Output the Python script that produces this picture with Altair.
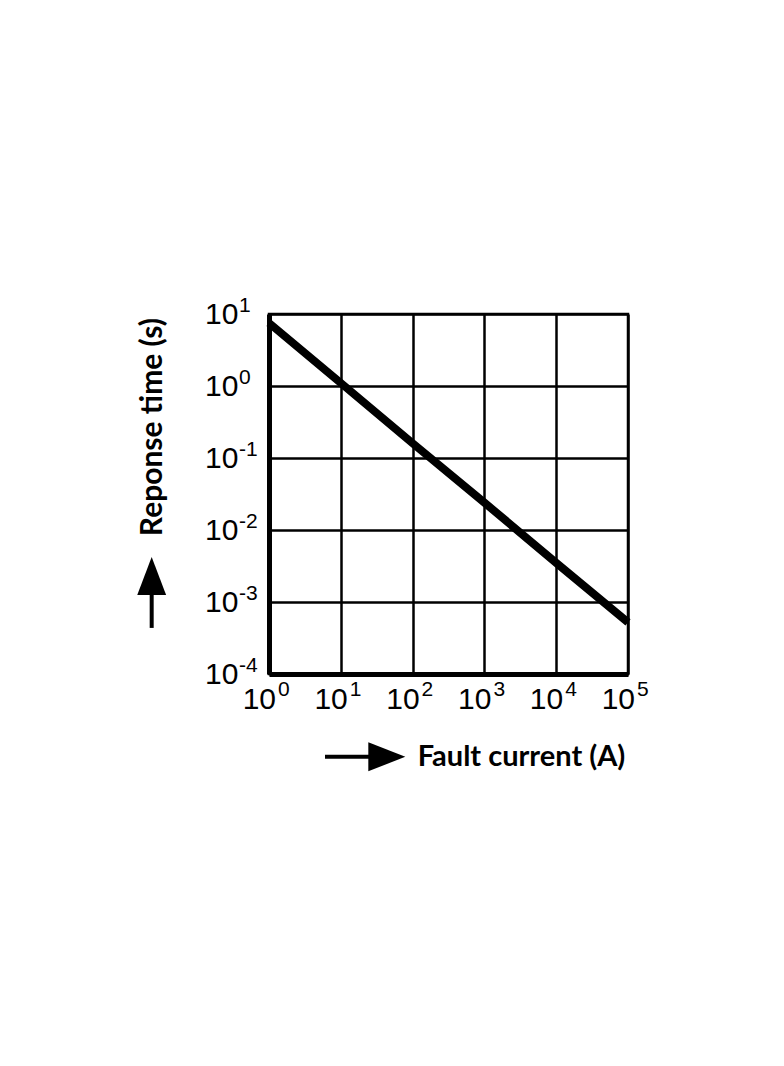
import altair as alt
import pandas as pd

# Data (log-log characteristic)
current = [1, 10, 100, 1000, 10000, 100000]
response = [7.5, 1.1, 0.16, 0.024, 0.0035, 0.00052]

x_exps = [0, 1, 2, 3, 4, 5]
y_exps = [-4, -3, -2, -1, 0, 1]

x_title = "Fault current (A)"
y_title = "Reponse time (s)"

LABEL_FONT = "Liberation Sans"
TITLE_FONT = "Lato"

xs = alt.Scale(type="log", domain=[1, 1e5], nice=False)
ys = alt.Scale(type="log", domain=[1e-4, 10], nice=False)

grid_vals = [10.0 ** k for k in x_exps]
grid_vals_y = [10.0 ** k for k in y_exps]

xaxis = alt.Axis(values=grid_vals, grid=True, gridColor="black", gridWidth=2.5,
                 gridOpacity=1, domainColor="black", domainWidth=5,
                 ticks=False, labels=False, title=None)
yaxis = alt.Axis(values=grid_vals_y, grid=True, gridColor="black", gridWidth=2.5,
                 gridOpacity=1, domainColor="black", domainWidth=5,
                 ticks=False, labels=False, title=None)

line_df = pd.DataFrame({"current": current, "response": response})
xlab = pd.DataFrame({"v": [10.0 ** k for k in x_exps], "y": [1e-4] * len(x_exps),
                     "base": ["10"] * len(x_exps), "exp": [str(k) for k in x_exps]})
ylab = pd.DataFrame({"v": [10.0 ** k for k in y_exps], "x": [1.0] * len(y_exps),
                     "base": ["10"] * len(y_exps), "exp": [str(k) for k in y_exps]})


def X(field):
    return alt.X(field, scale=xs, axis=xaxis)


def Y(field):
    return alt.Y(field, scale=ys, axis=yaxis)


base = alt.Chart(line_df).mark_line(color="black", strokeWidth=8, strokeCap="butt").encode(
    x=X("current:Q"), y=Y("response:Q"))

# x tick labels: "10" + superscript exponent
xl_base = alt.Chart(xlab).mark_text(font=LABEL_FONT, fontSize=30, align="right",
                                     baseline="alphabetic", dx=7, dy=35, color="black").encode(
    x=X("v:Q"), y=Y("y:Q"), text="base:N")
xl_exp = alt.Chart(xlab).mark_text(font=LABEL_FONT, fontSize=21, align="left",
                                    baseline="alphabetic", dx=9, dy=22, color="black").encode(
    x=X("v:Q"), y=Y("y:Q"), text="exp:N")

# y tick labels
yl_base = alt.Chart(ylab).mark_text(font=LABEL_FONT, fontSize=30, align="left",
                                     baseline="alphabetic", dx=-64, dy=10, color="black").encode(
    x=X("x:Q"), y=Y("v:Q"), text="base:N")
yl_exp = alt.Chart(ylab).mark_text(font=LABEL_FONT, fontSize=21, align="left",
                                    baseline="alphabetic", dx=-30, dy=-2, color="black").encode(
    x=X("x:Q"), y=Y("v:Q"), text="exp:N")

# Axis titles with arrows (placed in data coordinates outside the plot area)
xt_df = pd.DataFrame({"x": [10 ** 2.07], "y": [10 ** -5.15], "t": [x_title]})
yt_df = pd.DataFrame({"x": [10 ** -1.61], "y": [10 ** -0.57], "t": [y_title]})

x_title_mark = alt.Chart(xt_df).mark_text(font=TITLE_FONT, fontWeight="bold", fontSize=29,
                                          align="left", baseline="middle", color="black").encode(
    x=X("x:Q"), y=Y("y:Q"), text="t:N")
y_title_mark = alt.Chart(yt_df).mark_text(font=TITLE_FONT, fontWeight="bold", fontSize=30,
                                          align="center", baseline="middle", angle=270,
                                          color="black").encode(
    x=X("x:Q"), y=Y("y:Q"), text="t:N")

xshaft = pd.DataFrame({"x": [10 ** 0.78], "x2": [10 ** 1.5], "y": [10 ** -5.15]})
yshaft = pd.DataFrame({"x": [10 ** -1.634], "y": [10 ** -2.75], "y2": [10 ** -3.36]})
xhead = pd.DataFrame({"x": [10 ** 1.641], "y": [10 ** -5.15]})
yhead = pd.DataFrame({"x": [10 ** -1.634], "y": [10 ** -2.639]})

x_shaft_mark = alt.Chart(xshaft).mark_rule(color="black", strokeWidth=4).encode(
    x=X("x:Q"), x2="x2:Q", y=Y("y:Q"))
y_shaft_mark = alt.Chart(yshaft).mark_rule(color="black", strokeWidth=4).encode(
    x=X("x:Q"), y=Y("y:Q"), y2="y2:Q")
x_head_mark = alt.Chart(xhead).mark_point(shape="M-1,-0.78L1,0L-1,0.78Z", size=1369,
                                          filled=True, color="black", opacity=1).encode(
    x=X("x:Q"), y=Y("y:Q"))
y_head_mark = alt.Chart(yhead).mark_point(shape="M0,-1L0.76,1L-0.76,1Z", size=1444,
                                          filled=True, color="black", opacity=1).encode(
    x=X("x:Q"), y=Y("y:Q"))

chart = alt.layer(
    base, xl_base, xl_exp, yl_base, yl_exp,
    x_title_mark, y_title_mark, x_shaft_mark, y_shaft_mark, x_head_mark, y_head_mark
).properties(
    width=359, height=360,
    autosize=alt.AutoSizeParams(type="none"),
    padding={"left": 261, "top": 306, "right": 140, "bottom": 380},
    background="white",
).configure_view(stroke="black", strokeWidth=2.5)

chart.save("out.html", embed_options={"renderer": "svg", "actions": False})
